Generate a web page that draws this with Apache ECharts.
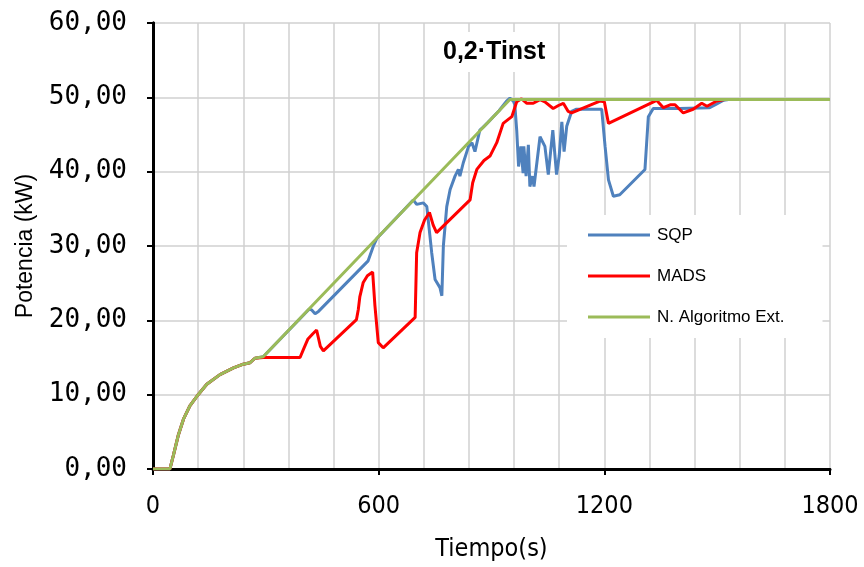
<!DOCTYPE html>
<html><head><meta charset="utf-8">
<script src="https://cdn.jsdelivr.net/npm/echarts@6/dist/echarts.min.js"></script>
<style>html,body{margin:0;padding:0;background:#fff}#c{width:864px;height:567px}</style>
</head><body><div id="c"></div>
<script>
var title = '0,2·Tinst';
var seriesNames = ['SQP', 'MADS', 'N. Algoritmo Ext.'];
var xTickLabels = ['0', '600', '1200', '1800'];
var yTickLabels = ['0,00', '10,00', '20,00', '30,00', '40,00', '50,00', '60,00'];

var algoTime  = [0, 45, 54, 67, 81, 98, 120, 143, 178, 214, 240, 258, 271, 293, 949, 1800];
var algoPower = [0, 0, 1.8, 4.5, 6.7, 8.5, 10.0, 11.4, 12.7, 13.6, 14.1, 14.3, 14.9, 15.1, 49.7, 49.7];

var madsTime  = [0, 45, 54, 67, 81, 98, 120, 143, 178, 214, 240, 258, 271, 293, 391, 400, 412, 425, 435, 445, 453, 541, 546, 550, 559, 570, 584, 590, 599, 612, 697, 701, 710, 722, 735, 745, 754, 843, 850, 861, 880, 896, 914, 931, 954, 967, 980, 994, 1011, 1029, 1042, 1064, 1078, 1091, 1104, 1113, 1188, 1200, 1211, 1339, 1357, 1375, 1388, 1410, 1436, 1459, 1473, 1499, 1520, 1800];
var madsPower = [0, 0, 1.8, 4.5, 6.7, 8.5, 10.0, 11.4, 12.7, 13.6, 14.1, 14.3, 14.9, 15.0, 15.0, 16.1, 17.5, 18.2, 18.7, 16.5, 15.9, 20.1, 21.5, 23.2, 25.1, 26.0, 26.5, 22.0, 17.0, 16.3, 20.4, 29.1, 31.8, 33.5, 34.5, 32.8, 31.8, 36.2, 38.5, 40.3, 41.5, 42.1, 43.9, 46.5, 47.4, 49.4, 49.8, 49.2, 49.2, 49.7, 49.4, 48.5, 48.9, 49.2, 48.1, 47.9, 49.5, 49.4, 46.5, 49.6, 48.6, 49.0, 49.0, 47.9, 48.4, 49.2, 48.8, 49.5, 49.7, 49.7];

var sqpTime  = [0, 45, 54, 67, 81, 98, 120, 143, 178, 214, 240, 258, 271, 293, 415, 422, 431, 440, 572, 586, 595, 692, 701, 719, 728, 736, 741, 750, 763, 768, 772, 781, 790, 803, 812, 816, 825, 839, 848, 856, 869, 878, 890, 920, 940, 949, 958, 962, 967, 972, 978, 984, 986, 992, 998, 1002, 1009, 1013, 1029, 1042, 1051, 1063, 1073, 1080, 1087, 1093, 1100, 1113, 1126, 1193, 1202, 1211, 1224, 1241, 1308, 1317, 1330, 1400, 1480, 1499, 1517, 1530, 1800];
var sqpPower = [0, 0, 1.8, 4.5, 6.7, 8.5, 10.0, 11.4, 12.7, 13.6, 14.1, 14.3, 14.9, 15.1, 21.5, 21.4, 20.9, 21.2, 28.0, 30.0, 31.0, 36.2, 35.6, 35.8, 35.3, 31.5, 29.1, 25.5, 24.4, 23.3, 30.0, 35.3, 37.6, 39.4, 40.3, 39.4, 41.2, 43.4, 43.9, 42.7, 45.6, 46.0, 46.6, 48.2, 49.5, 49.9, 49.5, 49.0, 45.6, 40.7, 43.4, 39.8, 43.4, 39.4, 43.6, 38.0, 39.4, 38.0, 44.7, 43.4, 39.6, 45.6, 39.6, 42.1, 46.7, 42.7, 46.1, 48.1, 48.4, 48.4, 43.4, 38.9, 36.7, 36.9, 40.3, 47.4, 48.5, 48.5, 48.6, 49.1, 49.6, 49.7, 49.7];

var seriesColors = ['#4F81BD', '#FF0000', '#9BBB59'];

function pairs(t, v) { return t.map(function (x, i) { return [x, v[i]]; }); }

var chart = echarts.init(document.getElementById('c'), null, {renderer: 'canvas'});
var gridColor = '#d0d0d0';
chart.setOption({
  animation: false,
  backgroundColor: '#fff',
  title: {
    text: title, left: 427, top: 32,
    backgroundColor: '#fff', padding: [7, 10, 7, 16],
    textStyle: {fontFamily: 'Liberation Sans, Arial, sans-serif', fontWeight: 'bold', fontSize: 25, lineHeight: 26, color: '#000'}
  },
  legend: {
    orient: 'vertical', left: 567, top: 215,
    backgroundColor: '#fff',
    padding: [10, 38, 11, 21],
    icon: 'rect',
    itemWidth: 62, itemHeight: 3, itemGap: 21,
    data: seriesNames.map(function (n, i) { return {name: n, itemStyle: {color: seriesColors[i]}}; }),
    textStyle: {fontFamily: 'Liberation Sans, Arial, sans-serif', fontSize: 17, lineHeight: 20, color: '#000', padding: [0, 0, 0, 2]}
  },
  grid: {left: 153, right: 34, top: 23, bottom: 97, containLabel: false},
  xAxis: [{
    type: 'value', min: 0, max: 1800, interval: 600,
    name: 'Tiempo(s)', nameLocation: 'middle', nameGap: 68,
    nameTextStyle: {fontFamily: 'DejaVu Sans Condensed, Liberation Sans Narrow, Liberation Sans, sans-serif', fontSize: 25, color: '#000'},
    axisLine: {show: true, lineStyle: {color: '#000', width: 3}},
    axisTick: {show: true, length: 6, lineStyle: {color: '#000', width: 2}},
    axisLabel: {color: '#000', fontSize: 25, margin: 25, fontFamily: 'DejaVu Sans Condensed, Liberation Sans Narrow, sans-serif',
      formatter: function (v) { var i = xTickLabels.indexOf(String(v)); return i >= 0 ? xTickLabels[i] : ''; }},
    splitLine: {show: false}
  }, {
    type: 'value', min: 0, max: 1800, interval: 120, position: 'top',
    axisLine: {show: true, lineStyle: {color: '#000', width: 2}},
    axisTick: {show: false}, axisLabel: {show: false},
    splitLine: {show: true, lineStyle: {color: gridColor, width: 1.5}}
  }],
  yAxis: [{
    type: 'value', min: 0, max: 60, interval: 10,
    name: 'Potencia (kW)', nameLocation: 'middle', nameGap: 116, nameRotate: 90,
    nameTextStyle: {fontFamily: 'Liberation Sans, Arial, sans-serif', fontSize: 23, color: '#000'},
    axisLine: {show: true, lineStyle: {color: '#000', width: 3}},
    axisTick: {show: true, length: 6, lineStyle: {color: '#000', width: 2}},
    axisLabel: {color: '#000', fontSize: 26, margin: 26, fontFamily: 'DejaVu Sans Mono, monospace',
      formatter: function (v) { return yTickLabels[Math.round(v / 10)]; }},
    splitLine: {show: true, lineStyle: {color: gridColor, width: 1.5}}
  }, {
    type: 'value', min: 0, max: 60, interval: 10, position: 'right',
    axisLine: {show: true, lineStyle: {color: '#000', width: 3}},
    axisTick: {show: false}, axisLabel: {show: false}, splitLine: {show: false}
  }],
  series: [
    {name: seriesNames[0], type: 'line', data: pairs(sqpTime, sqpPower), symbol: 'none', showSymbol: false,
     lineStyle: {color: seriesColors[0], width: 3}, itemStyle: {color: seriesColors[0]}},
    {name: seriesNames[1], type: 'line', data: pairs(madsTime, madsPower), symbol: 'none', showSymbol: false,
     lineStyle: {color: seriesColors[1], width: 3}, itemStyle: {color: seriesColors[1]}},
    {name: seriesNames[2], type: 'line', data: pairs(algoTime, algoPower), symbol: 'none', showSymbol: false,
     lineStyle: {color: seriesColors[2], width: 3}, itemStyle: {color: seriesColors[2]}}
  ]
});
</script></body></html>
